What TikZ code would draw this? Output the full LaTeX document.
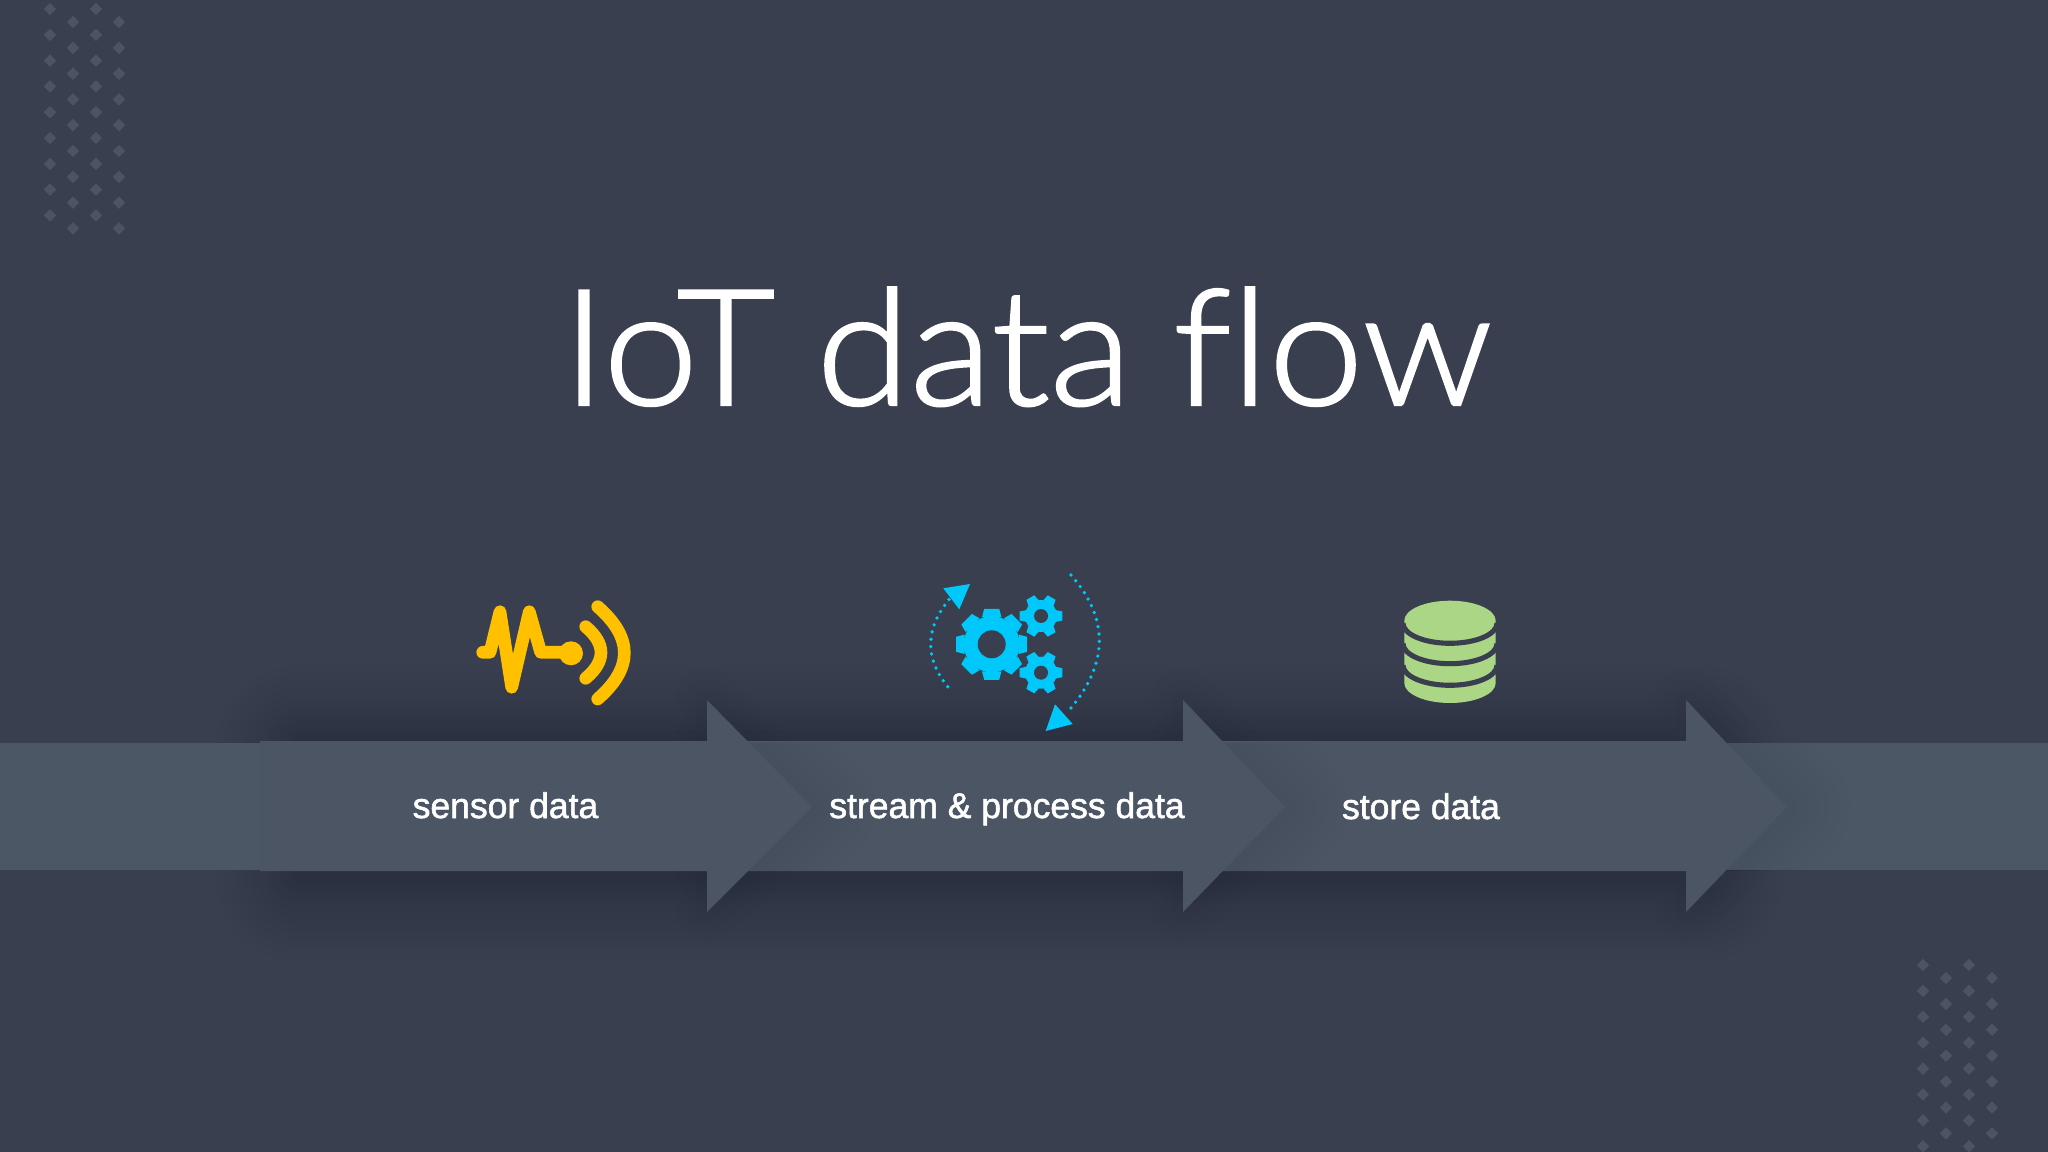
\documentclass[tikz,border=0pt]{standalone}
\usepackage{fontspec}
\usetikzlibrary{shapes.geometric}
\setmainfont{Liberation Sans}[FakeBold=1.5]
\newfontfamily\titlefont{Lato Light}[FakeBold=1.5, FakeStretch=1.05, WordSpace=0.9, Ligatures=NoCommon]
\definecolor{slidebg}{RGB}{57,63,78}
\definecolor{bandcol}{RGB}{76,87,102}
\definecolor{arrowcol}{RGB}{75,85,100}
\definecolor{dotcol}{RGB}{76,83,98}
\definecolor{sensorcol}{RGB}{255,192,0}
\definecolor{gearcol}{RGB}{0,200,250}
\definecolor{dbcol}{RGB}{171,214,134}
\newcommand{\arrowpath}[3]{(#1,741) -- (#2,741) -- (#2,700) -- (#3,807) -- (#2,912) -- (#2,871) -- (#1,871) -- cycle}
\newcommand{\gearicon}[8]{% x, y, outer, body, hole, teeth, tooth half width, turn
    \foreach \t in {1,...,#6} {
        \fill[gearcol, rotate around={\t*360/#6+#8:(#1,#2)}]
            (#1-#7*1.3,#2-#4+1) -- (#1-#7,#2-#3) -- (#1+#7,#2-#3) -- (#1+#7*1.3,#2-#4+1) -- cycle;
    }
    \fill[gearcol] (#1,#2) circle[radius=#4];
    \fill[slidebg] (#1,#2) circle[radius=#5];
}
\begin{document}
\begin{tikzpicture}[
        x=0.01cm, y=-0.01cm,
        diamonddot/.style={diamond, fill=dotcol, inner sep=0pt, minimum size=0.13cm},
        steplabel/.style={text=white, font=\fontsize{10.1}{12}\selectfont, anchor=base},
        titlelabel/.style={text=white, font=\titlefont\fontsize{46}{50}\selectfont, anchor=base},
        sensorline/.style={draw=sensorcol, line width=3.6pt, line cap=round, line join=round},
        flowdots/.style={draw=gearcol, line width=1.05pt, line cap=round, dash pattern=on 0pt off 2.1pt},
        dbgap/.style={draw=slidebg, line width=1.45pt}
    ]
    \useasboundingbox (0,0) rectangle (2048,1152);
    \clip (0,0) rectangle (2048,1152);
    \fill[slidebg] (0,0) rectangle (2048,1152);

    % Corner dots
    \foreach \cx in {50,96} {
        \foreach \n in {0,...,8} {
            \node[diamonddot] at (\cx,9+\n*25.8) {};
            \node[diamonddot] at (\cx+23,22+\n*25.8) {};
        }
    }
    \foreach \cx in {1923,1969} {
        \foreach \n in {0,...,7} {
            \node[diamonddot] at (\cx,965+\n*25.9) {};
            \node[diamonddot] at (\cx+23,978+\n*25.9) {};
        }
    }

    % Soft shadows on the background
    \foreach \w in {4,8,...,48} {
        \draw[black, opacity=0.011, line width=\w pt, line join=round] (300,750) rectangle (1700,877);
    }
    \foreach \xa/\xb/\xc in {1183/1686/1787, 707/1183/1285, 300/707/812} {
        \foreach \w in {6,12,18} {
            \draw[black, opacity=0.012, line width=\w pt, line join=round] \arrowpath{\xa}{\xb}{\xc};
        }
    }

    % Band and arrows, last one first
    \fill[bandcol] (0,743) rectangle (2048,870);
    \foreach \xa/\xb/\xc in {1183/1686/1787, 707/1183/1285, 260/707/812} {
        \begin{scope}
            \clip (\xb,743) rectangle (2048,870);
            \foreach \w in {6,12,...,36} {
                \draw[black, opacity=0.009, line width=\w pt, line join=round] \arrowpath{\xa}{\xb}{\xc};
            }
        \end{scope}
        \fill[arrowcol] \arrowpath{\xa}{\xb}{\xc};
    }

    % Title and labels
    \node[titlelabel] (title) at (1027,405) {IoT data flow};
    \node[steplabel] (sensor) at (505.5,818) {sensor data};
    \node[steplabel] (stream) at (1007,818) {stream \& process data};
    \node[steplabel] (store) at (1421,819) {store data};

    % Sensor icon
    \draw[sensorline] (482.7,652.3) -- (490,652.3) -- (500,611.7) -- (511.7,687.3) -- (529.3,611.7) -- (540.7,652.3) -- (570,652.3);
    \fill[sensorcol] (571,653.3) circle[radius=12];
    \draw[sensorline] (585.7,626.7) .. controls (606.1,643.9) and (606.1,661.1) .. (585.7,678.3);
    \draw[sensorline] (597.7,606.7) .. controls (633.2,637.7) and (633.2,668) .. (597.7,699);

    % Gears icon
    \gearicon{991.7}{644.3}{35.5}{28}{14}{8}{7.5}{0}
    \gearicon{1041}{616}{21.3}{16}{7}{6}{4.5}{30}
    \gearicon{1041}{672.7}{21.3}{16}{7}{6}{4.5}{30}
    \draw[flowdots] (947.7,686.7) .. controls (924.3,657.9) and (925,628.4) .. (950,598.3);
    \draw[flowdots] (1071,575) .. controls (1110.2,619.7) and (1108.7,665.7) .. (1066.7,713);
    \fill[gearcol] (943.3,588.3) -- (970,584) -- (959.3,609.3) -- cycle;
    \fill[gearcol] (1055,704.3) -- (1072.7,724) -- (1045.7,731) -- cycle;

    % Database icon
    \fill[dbcol] (1404.3,620.7) -- (1404.3,683) arc[start angle=180, end angle=0, x radius=45.7, y radius=20] -- (1495.7,620.7) arc[start angle=0, end angle=-180, x radius=45.7, y radius=20] -- cycle;
    \draw[dbgap] (1403,623.3) arc[start angle=180, end angle=0, x radius=47, y radius=20];
    \draw[dbgap] (1403,643.7) arc[start angle=180, end angle=0, x radius=47, y radius=20];
    \draw[dbgap] (1403,665.3) arc[start angle=180, end angle=0, x radius=47, y radius=20];
\end{tikzpicture}
\end{document}
